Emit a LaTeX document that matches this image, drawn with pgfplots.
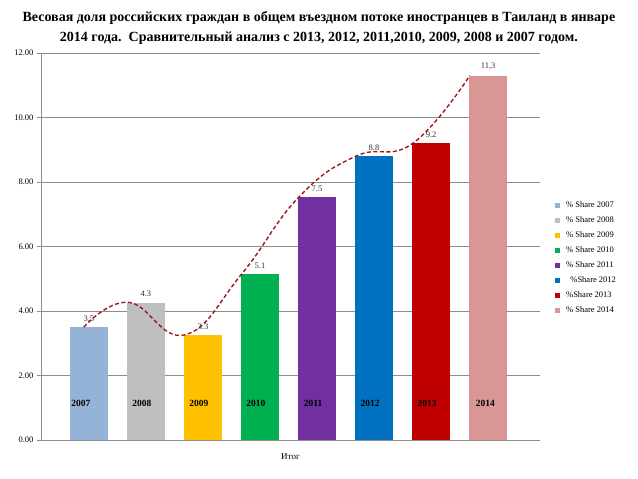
\documentclass[border=0pt]{standalone}
\usepackage{fontspec}
\setmainfont{Liberation Serif}
\usepackage{pgfplots}
\pgfplotsset{compat=1.18}

\definecolor{c2007}{HTML}{95B3D7}
\definecolor{c2008}{HTML}{BFBFBF}
\definecolor{c2009}{HTML}{FFC000}
\definecolor{c2010}{HTML}{00B050}
\definecolor{c2011}{HTML}{7030A0}
\definecolor{c2012}{HTML}{0070C0}
\definecolor{c2013}{HTML}{C00000}
\definecolor{c2014}{HTML}{D99694}
\definecolor{trend}{HTML}{A01818}
\definecolor{gridgray}{HTML}{8C8C8C}

\begin{document}
\begin{tikzpicture}
\useasboundingbox (-41pt,-39pt) rectangle (597pt,440pt);
\begin{axis}[
  scale only axis,
  width=499pt, height=387pt,
  xmin=-0.84, xmax=7.91,
  ymin=0, ymax=12,
  ytick={0,2,...,12},
  xtick=\empty,
  yticklabel style={/pgf/number format/.cd, fixed, fixed zerofill, precision=2},
  /pgf/number format/assume math mode=true,
  ticklabel style={font=\fontsize{8.5}{9}\selectfont},
  axis x line*=bottom, axis y line*=left,
  axis line style={gridgray, line width=0.8pt, -},
  y tick style={gridgray, line width=0.8pt},
  tick align=outside, major tick length=4pt,
  ymajorgrids, grid style={gridgray, line width=0.8pt},
  xlabel={Итог},
  xlabel style={font=\fontsize{9}{10}\selectfont, at={(axis description cs:0.5,0)}, anchor=north, yshift=-10pt},
  title={\textbf{Весовая доля российских граждан в общем въездном потоке иностранцев в Таиланд в январе}\\\textbf{2014 года.\ \ Сравнительный анализ с 2013, 2012, 2011,2010, 2009, 2008 и 2007 годом.}},
  title style={font=\fontsize{14}{20}\selectfont, align=center, at={(axis description cs:0.557,1)}, anchor=south, yshift=-1pt},
  legend cell align=left,
  legend style={draw=none, fill=none, font=\fontsize{8.5}{9}\selectfont,
    at={(axis description cs:1.024,0.627)}, anchor=north west, row sep=3.6pt},
  legend image code/.code={\fill[#1] (0pt,-2.4pt) rectangle (4.8pt,2.4pt); \path (9pt,0pt);},
  every axis plot/.append style={ybar, bar width=0.667, bar shift=0pt, draw=none},
]
\addplot[fill=c2007] coordinates {(0,3.50)};
\addlegendentry{\% Share 2007}
\addplot[fill=c2008] coordinates {(1,4.26)};
\addlegendentry{\% Share 2008}
\addplot[fill=c2009] coordinates {(2,3.26)};
\addlegendentry{\% Share 2009}
\addplot[fill=c2010] coordinates {(3,5.15)};
\addlegendentry{\% Share 2010}
\addplot[fill=c2011] coordinates {(4,7.53)};
\addlegendentry{\% Share 2011}
\addplot[fill=c2012] coordinates {(5,8.80)};
\addlegendentry{\ \ \%Share 2012}
\addplot[fill=c2013] coordinates {(6,9.20)};
\addlegendentry{\%Share 2013}
\addplot[fill=c2014] coordinates {(7,11.30)};
\addlegendentry{\% Share 2014}

% trend curve
\addplot[forget plot, sharp plot, draw=trend, smooth, tension=0.75, line width=1.4pt,
  dash pattern=on 4pt off 2.5pt, mark=none]
  coordinates {(-0.09,3.50) (0.69,4.27) (1.68,3.26) (2.68,5.15) (3.68,7.53) (4.68,8.80) (5.68,9.20) (6.68,11.30)};

% value labels
\addplot[forget plot, sharp plot, draw=none, mark=none, point meta=explicit symbolic,
  nodes near coords, every node near coord/.style={anchor=south, yshift=2pt,
  font=\fontsize{8.5}{9}\selectfont, text=black!80}]
  coordinates {(0,3.50)[3.5] (1,4.26)[4.3] (2,3.26)[3.3] (3,5.15)[5.1] (4,7.53)[7.5] (5,8.80)[8.8] (6,9.20)[9.2] (7,11.30)[11,3]};

% year labels
\addplot[forget plot, sharp plot, draw=none, mark=none, point meta=explicit symbolic,
  nodes near coords, every node near coord/.style={anchor=center,
  font=\bfseries\fontsize{9.5}{10}\selectfont, text=black}]
  coordinates {(-0.14,1.12)[2007] (0.93,1.12)[2008] (1.93,1.12)[2009] (2.93,1.12)[2010] (3.93,1.12)[2011] (4.93,1.12)[2012] (5.93,1.12)[2013] (6.95,1.12)[2014]};
\end{axis}
\end{tikzpicture}
\end{document}
